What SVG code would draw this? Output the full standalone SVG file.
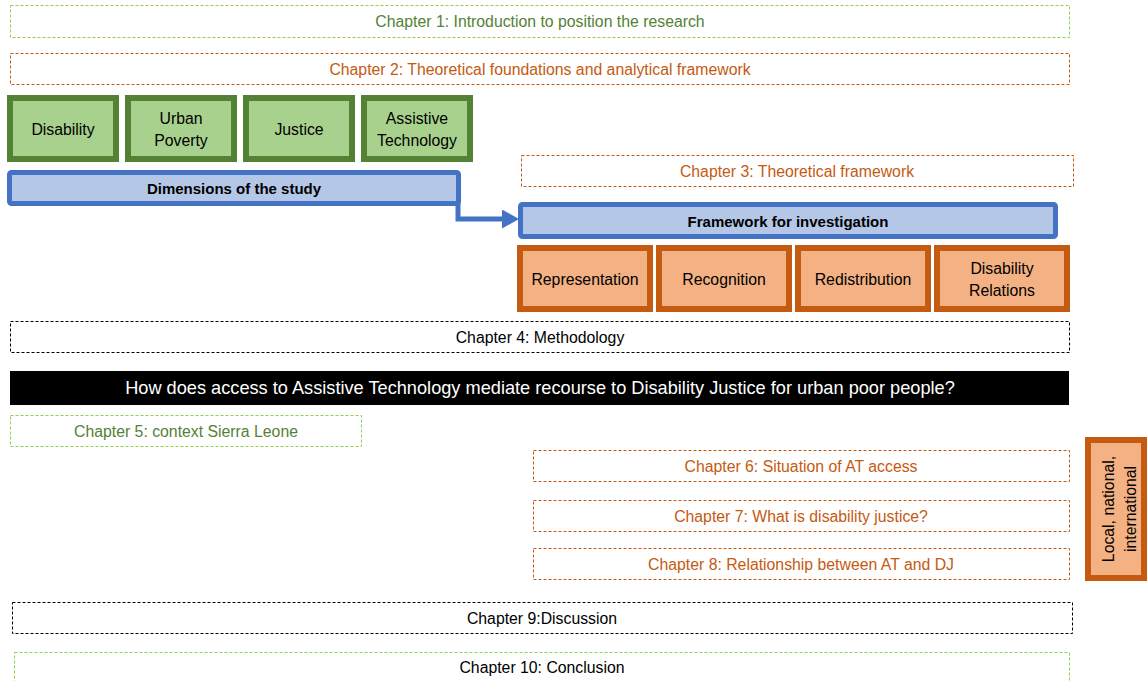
<svg xmlns="http://www.w3.org/2000/svg" width="1147" height="681" viewBox="0 0 1147 681">
  <style>
    text { font-family: "Liberation Sans", Arial, sans-serif; font-size: 15.8px; text-anchor: middle; dominant-baseline: central; }
    .ch { fill: #fff; stroke-width: 1; stroke-dasharray: 3 2; }
    .g { stroke: #92D050; }
    .o { stroke: #C55A11; }
    .k { stroke: #000; }
    .tg { fill: #548235; }
    .to { fill: #C55A11; }
    .tk { fill: #000; }
    .dim { fill: #A9D18E; stroke: #548235; stroke-width: 6; }
    .fw { fill: #F4B183; stroke: #C55A11; stroke-width: 6; }
    .bl { fill: #B4C7E7; stroke: #4472C4; stroke-width: 5; }
    .b { font-weight: bold; font-size: 15px; }
  </style>
  <defs>
    <marker id="arrow" markerWidth="17" markerHeight="19" refX="1" refY="9.5" orient="auto" markerUnits="userSpaceOnUse">
      <path d="M0,0 L17,9.5 L0,19 Z" fill="#4472C4"/>
    </marker>
  </defs>

  <g id="ch1"><rect class="ch g" x="10.5" y="5.5" width="1059" height="32"/><text class="tg" x="540" y="21.5">Chapter 1: Introduction to position the research</text></g>
  <g id="ch2"><rect class="ch o" x="10.5" y="53.5" width="1059" height="31"/><text class="to" x="540" y="69">Chapter 2: Theoretical foundations and analytical framework</text></g>

  <g id="disability"><rect class="dim" x="10" y="98" width="106" height="61"/><text x="63" y="129">Disability</text></g>
  <g id="urban-poverty"><rect class="dim" x="128" y="98" width="106" height="61"/><text x="181" y="118">Urban</text><text x="181" y="140">Poverty</text></g>
  <g id="justice"><rect class="dim" x="246" y="98" width="106" height="61"/><text x="299" y="129">Justice</text></g>
  <g id="assistive-technology"><rect class="dim" x="364" y="98" width="106" height="61"/><text x="417" y="118">Assistive</text><text x="417" y="140">Technology</text></g>

  <g id="dimensions"><rect class="bl" x="9.5" y="172.5" width="449" height="31" rx="2"/><text class="tk b" x="234" y="188">Dimensions of the study</text></g>
  <g id="ch3"><rect class="ch o" x="521.5" y="155.5" width="552" height="31"/><text class="to" x="797" y="171">Chapter 3: Theoretical framework</text></g>
  <g id="framework"><rect class="bl" x="520.5" y="204.5" width="535" height="32" rx="2"/><text class="tk b" x="788" y="221">Framework for investigation</text></g>

  <g id="connectors">
    <path d="M458,203 V219 H503" fill="none" stroke="#4472C4" stroke-width="5" marker-end="url(#arrow)"/>
  </g>

  <g id="representation"><rect class="fw" x="520" y="248" width="130" height="61"/><text x="585" y="279">Representation</text></g>
  <g id="recognition"><rect class="fw" x="659" y="248" width="130" height="61"/><text x="724" y="279">Recognition</text></g>
  <g id="redistribution"><rect class="fw" x="798" y="248" width="130" height="61"/><text x="863" y="279">Redistribution</text></g>
  <g id="disability-relations"><rect class="fw" x="937" y="248" width="130" height="61"/><text x="1002" y="268">Disability</text><text x="1002" y="290">Relations</text></g>

  <g id="ch4"><rect class="ch k" x="10.5" y="321.5" width="1059" height="31"/><text class="tk" x="540" y="337">Chapter 4: Methodology</text></g>
  <g id="question"><rect x="10" y="371" width="1059" height="34" fill="#000"/><text x="540" y="388" fill="#fff" style="font-size:18.2px">How does access to Assistive Technology mediate recourse to Disability Justice for urban poor people?</text></g>
  <g id="ch5"><rect class="ch g" x="10.5" y="415.5" width="351" height="31"/><text class="tg" x="186" y="431">Chapter 5: context Sierra Leone</text></g>
  <g id="ch6"><rect class="ch o" x="533.5" y="450.5" width="536" height="31"/><text class="to" x="801" y="466">Chapter 6: Situation of AT access</text></g>
  <g id="ch7"><rect class="ch o" x="533.5" y="500.5" width="536" height="31"/><text class="to" x="801" y="516">Chapter 7: What is disability justice?</text></g>
  <g id="ch8"><rect class="ch o" x="533.5" y="548.5" width="536" height="31"/><text class="to" x="801" y="564">Chapter 8: Relationship between AT and DJ</text></g>
  <g id="scale"><rect class="fw" x="1088" y="440" width="56" height="138"/><g transform="translate(1119,509) rotate(-90)"><text x="0" y="-11">Local, national,</text><text x="0" y="11">international</text></g></g>
  <g id="ch9"><rect class="ch k" x="12.5" y="602.5" width="1060" height="31"/><text class="tk" x="542" y="618">Chapter 9:Discussion</text></g>
  <g id="ch10"><rect class="ch g" x="14.5" y="652.5" width="1055" height="38"/><text class="tk" x="542" y="667">Chapter 10: Conclusion</text></g>
</svg>
